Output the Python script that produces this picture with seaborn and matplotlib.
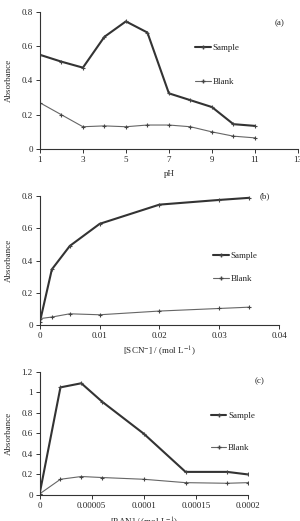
import numpy as np
import pandas as pd
import seaborn as sns
import matplotlib.pyplot as plt

# (a) effect of pH
ph = [1, 2, 3, 4, 5, 6, 7, 8, 9, 10, 11]
ph_sample = [0.55, 0.51, 0.475, 0.655, 0.745, 0.68, 0.325, 0.285, 0.245, 0.145, 0.135]
ph_blank = [0.27, 0.20, 0.13, 0.135, 0.13, 0.14, 0.14, 0.13, 0.10, 0.075, 0.065]

# (b) effect of thiocyanate concentration
scn = [0, 0.002, 0.005, 0.01, 0.02, 0.03, 0.035]
scn_sample = [0.02, 0.345, 0.49, 0.627, 0.746, 0.775, 0.788]
scn_blank = [0.04, 0.05, 0.07, 0.064, 0.087, 0.103, 0.111]

# (c) effect of reagent concentration
reag = [0, 0.00002, 0.00004, 0.00006, 0.0001, 0.00014, 0.00018, 0.0002]
reag_sample = [0.01, 1.05, 1.09, 0.91, 0.597, 0.225, 0.225, 0.20]
reag_blank = [0.01, 0.153, 0.18, 0.17, 0.153, 0.12, 0.114, 0.12]

sns.set_style("white")
plt.rcParams["font.family"] = ["Liberation Serif", "DejaVu Serif"]
plt.rcParams["font.size"] = 6.5
plt.rcParams["mathtext.fontset"] = "stix"

fig = plt.figure(figsize=(3.0, 5.21), dpi=100)

panels = [
    dict(x=ph, s=ph_sample, b=ph_blank, pos=[0.133, 0.714, 0.86, 0.263],
         xlim=(1, 13), xticks=[1, 3, 5, 7, 9, 11, 13], xtl=None,
         ylim=(0, 0.8), yticks=[0, 0.2, 0.4, 0.6, 0.8], ytl=["0", "0.2", "0.4", "0.6", "0.8"],
         xlabel="pH", lp=4, tag="(a)", tagxy=(0.911, 0.918),
         legxy=(0.585, 0.80), ls=2.8),
    dict(x=scn, s=scn_sample, b=scn_blank, pos=[0.133, 0.376, 0.797, 0.248],
         xlim=(0, 0.04), xticks=[0, 0.01, 0.02, 0.03, 0.04], xtl=["0", "0.01", "0.02", "0.03", "0.04"],
         ylim=(0, 0.8), yticks=[0, 0.2, 0.4, 0.6, 0.8], ytl=["0", "0.2", "0.4", "0.6", "0.8"],
         xlabel="[SCN$^{-}$] / (mol L$^{-1}$)", lp=3, tag="(b)", tagxy=(0.92, 1.0),
         legxy=(0.706, 0.605), ls=1.67),
    dict(x=reag, s=reag_sample, b=reag_blank, pos=[0.132, 0.05, 0.695, 0.236],
         xlim=(0, 0.0002), xticks=[0, 0.00005, 0.0001, 0.00015, 0.0002],
         xtl=["0", "0.00005", "0.0001", "0.00015", "0.0002"],
         ylim=(0, 1.2), yticks=[0, 0.2, 0.4, 0.6, 0.8, 1.0, 1.2],
         ytl=["0", "0.2", "0.4", "0.6", "0.8", "1", "1.2"],
         xlabel="[PAN] / (mol L$^{-1}$)", lp=4, tag="(c)", tagxy=(1.03, 0.927),
         legxy=(0.80, 0.71), ls=2.55),
]

for p in panels:
    ax = fig.add_axes(p["pos"])
    df = pd.DataFrame({"x": p["x"] * 2,
                       "y": p["s"] + p["b"],
                       "series": ["Sample"] * len(p["x"]) + ["Blank"] * len(p["x"])})
    sns.lineplot(data=df, x="x", y="y", hue="series", size="series",
                 palette={"Sample": "#333333", "Blank": "#666666"},
                 sizes={"Sample": 1.5, "Blank": 0.8},
                 marker="+", markersize=3, markeredgewidth=0.8,
                 markeredgecolor="#444444", legend=False, ax=ax)
    ax.set_xlim(*p["xlim"])
    ax.set_ylim(*p["ylim"])
    ax.set_xticks(p["xticks"])
    if p["xtl"]:
        ax.set_xticklabels(p["xtl"])
    ax.set_yticks(p["yticks"])
    ax.set_yticklabels(p["ytl"])
    sns.despine(ax=ax)
    for sp in ["left", "bottom"]:
        ax.spines[sp].set_color("#333333")
        ax.spines[sp].set_linewidth(0.8)
    ax.tick_params(direction="out", length=3, width=0.7, color="#333333",
                   labelsize=6.5, pad=2, left=True, bottom=True)
    ax.set_xlabel(p["xlabel"], fontsize=6.5, labelpad=p["lp"])
    ax.set_ylabel("Absorbance", fontsize=6.5, labelpad=6)
    ax.text(p["tagxy"][0], p["tagxy"][1], p["tag"], transform=ax.transAxes,
            ha="left", va="center", fontsize=6.5)
    # legend: short line + label, no frame, like the original
    lx, ly = p["legxy"]
    h1, = ax.plot([], [], color="#333333", lw=1.5, marker="+", ms=3, mec="#444444")
    h2, = ax.plot([], [], color="#666666", lw=0.8, marker="+", ms=3, mec="#444444")
    ax.legend([h1, h2], ["Sample", "Blank"], frameon=False, loc="upper left",
              bbox_to_anchor=(lx, ly), handlelength=1.7, handletextpad=0.2,
              labelspacing=p["ls"], fontsize=6.5, borderpad=0)

fig.savefig("out.png", dpi=100)
